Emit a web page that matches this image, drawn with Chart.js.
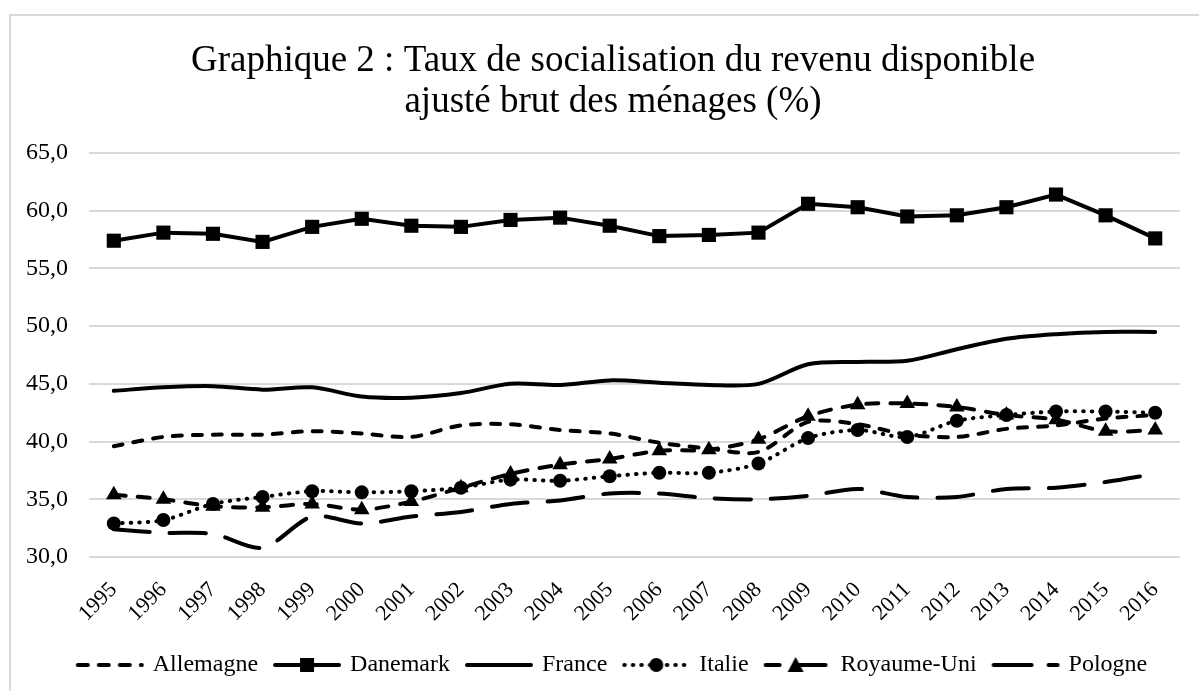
<!DOCTYPE html>
<html lang="fr">
<head>
<meta charset="UTF-8">
<title>Graphique 2 : Taux de socialisation du revenu disponible</title>
<script src="https://cdn.jsdelivr.net/npm/chart.js@4.4.0/dist/chart.umd.min.js"></script>
<style>
    body { margin: 0; background: #fff; }
    #wrap { width: 1199px; height: 691px; position: relative; }
</style>
</head>
<body>
<div id="wrap"><canvas id="chart" width="1199" height="691"></canvas></div>
<script>
// values (%)
const years = ['1995','1996','1997','1998','1999','2000','2001','2002','2003','2004','2005',
               '2006','2007','2008','2009','2010','2011','2012','2013','2014','2015','2016'];
const allemagne  = [39.6, 40.4, 40.6, 40.6, 40.9, 40.7, 40.4, 41.4, 41.5, 41.0, 40.7, 39.9, 39.4, 39.1, 41.7, 41.5, 40.6, 40.4, 41.1, 41.4, 42.0, 42.3];
const danemark   = [57.4, 58.1, 58.0, 57.3, 58.6, 59.3, 58.7, 58.6, 59.2, 59.4, 58.7, 57.8, 57.9, 58.1, 60.6, 60.3, 59.5, 59.6, 60.3, 61.4, 59.6, 57.6];
const france     = [44.4, 44.7, 44.8, 44.5, 44.7, 43.9, 43.8, 44.2, 45.0, 44.9, 45.3, 45.1, 44.9, 45.0, 46.7, 46.9, 47.0, 48.0, 48.9, 49.3, 49.5, 49.5];
const italie     = [32.9, 33.2, 34.6, 35.2, 35.7, 35.6, 35.7, 36.0, 36.7, 36.6, 37.0, 37.3, 37.3, 38.1, 40.3, 41.0, 40.4, 41.8, 42.3, 42.6, 42.6, 42.5];
const royaumeUni = [35.4, 35.0, 34.4, 34.3, 34.6, 34.1, 34.8, 36.0, 37.2, 38.0, 38.5, 39.2, 39.3, 40.2, 42.2, 43.2, 43.3, 43.0, 42.3, 41.9, 40.9, 41.0];
const pologne    = [32.4, 32.1, 32.0, 30.8, 33.5, 32.9, 33.5, 33.9, 34.6, 34.9, 35.5, 35.5, 35.1, 35.0, 35.3, 35.9, 35.2, 35.2, 35.9, 36.0, 36.5, 37.2];

const serif = '"Liberation Serif", "Times New Roman", serif';
const ink = '#000';

// small canvases used as legend samples (line style + marker)
function legendSample(dash, marker, end) {
    const c = document.createElement('canvas');
    c.width = 70; c.height = 22;
    const g = c.getContext('2d');
    const mid = end ? (3 + end) / 2 : 35;
    g.strokeStyle = ink; g.fillStyle = ink;
    g.lineWidth = 4; g.lineCap = 'round';
    g.setLineDash(dash);
    g.beginPath(); g.moveTo(3, 11); g.lineTo(end || 67, 11); g.stroke();
    g.setLineDash([]);
    if (marker === 'rect') {
        g.fillRect(mid - 7, 4, 14, 14);
    } else if (marker === 'circle') {
        g.beginPath(); g.arc(mid, 11, 7, 0, Math.PI * 2); g.fill();
    } else if (marker === 'triangle') {
        g.beginPath(); g.moveTo(mid, 3); g.lineTo(mid + 8, 18); g.lineTo(mid - 8, 18); g.closePath(); g.fill();
    }
    return c;
}

const legendImgs = [
    legendSample([10, 11], null),
    legendSample([], 'rect'),
    legendSample([], null),
    legendSample([0.5, 8], 'circle'),
    legendSample([14, 20, 40, 20], 'triangle', 63),
    legendSample([38, 17], null)
];

function series(label, data, dash, pointStyle, radius, tension) {
    return {
        label: label,
        data: data,
        borderColor: ink,
        backgroundColor: ink,
        borderWidth: 4,
        borderDash: dash,
        borderCapStyle: 'round',
        pointStyle: pointStyle || 'circle',
        pointRadius: pointStyle ? radius : 0,
        pointBorderWidth: 0,
        pointBackgroundColor: ink,
        tension: tension
    };
}

const framePlugin = {
    id: 'frame',
    beforeDraw(chart) {
        const ctx = chart.ctx;
        ctx.save();
        ctx.fillStyle = '#fff';
        ctx.fillRect(0, 0, chart.width, chart.height);
        ctx.strokeStyle = '#d9d9d9';
        ctx.lineWidth = 2;
        ctx.strokeRect(10, 15, chart.width + 20, chart.height + 20);
        ctx.restore();
    }
};

// title and legend are centred on the outer frame, not on the plot
const shiftPlugin = {
    id: 'shiftBlocks',
    afterLayout(chart) {
        [chart.titleBlock, chart.legend].forEach(b => {
            if (b) { b.left += 23; b.right += 23; }
        });
    }
};

new Chart(document.getElementById('chart'), {
    type: 'line',
    data: {
        labels: years,
        datasets: [
            series('Allemagne', allemagne, [9, 11], null, 0, 0.3),
            series('Danemark', danemark, [], 'rect', 10, 0),
            series('France', france, [], null, 0, 0.3),
            series('Italie', italie, [0.5, 8], 'circle', 7, 0.3),
            series('Royaume-Uni', royaumeUni, [12, 12], 'triangle', 9, 0.3),
            series('Pologne', pologne, [36, 20], null, 0, 0.3)
        ]
    },
    options: {
        responsive: false,
        animation: false,
        layout: { padding: { top: 0, right: 19, bottom: 4, left: 0 } },
        scales: {
            x: {
                offset: true,
                grid: { display: false },
                border: { display: false },
                ticks: {
                    color: ink,
                    font: { family: serif, size: 22 },
                    maxRotation: 45,
                    minRotation: 45,
                    padding: 12
                },
                afterFit(scale) { scale.height = 78; }
            },
            y: {
                min: 30,
                max: 65,
                border: { display: false },
                grid: { color: '#d9d9d9', lineWidth: 2, drawTicks: false },
                ticks: {
                    stepSize: 5,
                    color: ink,
                    padding: 21,
                    font: { family: serif, size: 24 },
                    callback: v => v.toFixed(1).replace('.', ',')
                },
                afterFit(scale) { scale.width = 89; }
            }
        },
        plugins: {
            title: {
                display: true,
                text: ['Graphique 2 : Taux de socialisation du revenu disponible', 'ajusté brut des ménages (%)'],
                color: ink,
                font: { family: serif, size: 37, weight: 'normal', lineHeight: 1.108 },
                padding: { top: 41, bottom: 30 }
            },
            legend: {
                position: 'bottom',
                labels: {
                    color: ink,
                    font: { family: serif, size: 24 },
                    usePointStyle: true,
                    pointStyleWidth: 62,
                    padding: 18,
                    generateLabels(chart) {
                        const items = Chart.defaults.plugins.legend.labels.generateLabels(chart);
                        items.forEach((it, i) => { it.pointStyle = legendImgs[i]; });
                        return items;
                    }
                }
            },
            tooltip: { enabled: false }
        }
    },
    plugins: [framePlugin, shiftPlugin]
});
</script>
</body>
</html>
